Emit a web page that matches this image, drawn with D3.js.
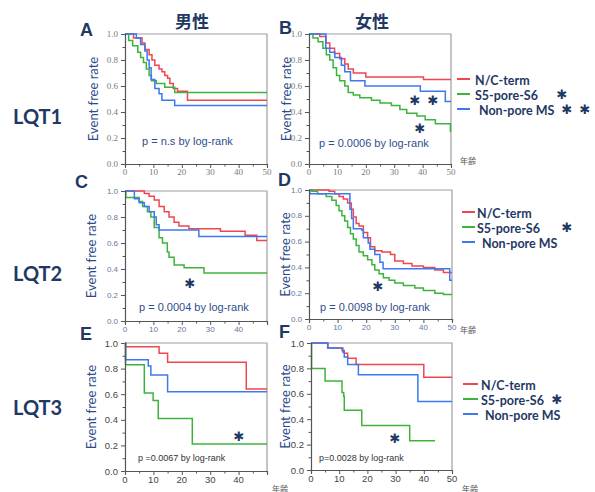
<!DOCTYPE html>
<html>
<head>
<meta charset="utf-8">
<script src="https://cdn.jsdelivr.net/npm/d3@7"></script>
<style>
  body { margin: 0; background: #fff; }
  text { font-family: "Liberation Sans", Arial, sans-serif; }
</style>
</head>
<body>
<div id="chart"></div>
<script>
// survival steps, [age, event free rate]
const aNC = [[0,1],[3,0.97],[6,0.93],[7,0.88],[8.5,0.84],[9.5,0.8],[10.5,0.76],[12,0.73],[13,0.71],[14,0.68],[15,0.66],[15.8,0.62],[17,0.58],[18.5,0.56],[22,0.49],[50,0.49]];
const aS5 = [[0,1],[1.3,0.95],[2.7,0.91],[4.5,0.86],[5.5,0.82],[6.5,0.78],[7.5,0.73],[8.5,0.68],[9.3,0.64],[11,0.62],[14,0.59],[17.5,0.55],[50,0.55]];
const aNon = [[0,1],[4,0.97],[5.5,0.92],[7,0.87],[7.8,0.8],[8.5,0.74],[9.2,0.65],[10.5,0.58],[12,0.54],[13,0.49],[17.5,0.45],[50,0.45]];

const bNC = [[0,1],[3.8,0.98],[6,0.93],[7.3,0.89],[9,0.85],[10.8,0.81],[12.6,0.77],[13.8,0.73],[15.6,0.7],[20,0.67],[40.3,0.65],[50,0.65]];
const bS5 = [[0,1],[1.4,0.97],[3.2,0.94],[4.9,0.89],[6.1,0.84],[7.3,0.8],[8.5,0.74],[9.7,0.68],[10.8,0.64],[12.6,0.6],[13.8,0.55],[15.6,0.53],[17.9,0.51],[22,0.49],[25,0.47],[29,0.45],[32,0.42],[34.4,0.39],[38,0.37],[40.9,0.34],[44.5,0.31],[49.8,0.25],[50,0.25]];
const bNon = [[0,1],[5.9,0.89],[7.3,0.86],[9.1,0.82],[11.4,0.76],[12.6,0.71],[14.6,0.64],[19.7,0.6],[39.2,0.56],[48,0.48],[50,0.48]];

const cNC = [[0,1],[6.8,0.98],[8.5,0.96],[10.3,0.93],[12,0.88],[13.8,0.84],[15.5,0.8],[17.3,0.76],[19,0.73],[22.5,0.71],[33.6,0.69],[42.3,0.66],[46.4,0.62],[50,0.62]];
const cS5 = [[0,1],[0.3,0.95],[5,0.92],[6.2,0.88],[7.9,0.84],[9.1,0.8],[10.3,0.72],[12,0.64],[13.2,0.6],[14.9,0.53],[15.5,0.49],[17.3,0.43],[20.8,0.41],[27.8,0.37],[50,0.37]];
const cNon = [[0,1],[3.3,0.94],[5,0.91],[6.8,0.88],[8.5,0.84],[10.3,0.8],[11,0.74],[12,0.7],[26,0.65],[50,0.65]];

const dNC = [[0,1],[7,0.99],[9,0.97],[10.5,0.95],[12,0.93],[13.5,0.9],[14.8,0.85],[15.5,0.79],[16.5,0.74],[17.5,0.72],[19,0.67],[20.5,0.63],[21.5,0.56],[23,0.53],[25.5,0.52],[28.5,0.5],[30,0.45],[33,0.43],[36,0.41],[40,0.4],[44,0.38],[47,0.36],[50,0.36]];
const dS5 = [[0,1],[1,0.99],[3,0.97],[6,0.95],[8,0.92],[9.5,0.88],[10.5,0.84],[11.5,0.8],[12.5,0.76],[13.5,0.71],[14.5,0.66],[15.5,0.62],[16.5,0.57],[17.5,0.52],[19,0.49],[20.5,0.46],[22,0.42],[23,0.38],[24.5,0.35],[26,0.32],[28,0.3],[30,0.28],[33,0.26],[37,0.24],[40,0.22],[44,0.2],[47,0.19],[50,0.19]];
const dNon = [[0,1],[0.3,0.97],[14.3,0.85],[14.9,0.78],[15.5,0.7],[18.4,0.69],[19,0.63],[20.7,0.59],[21.3,0.54],[23,0.5],[24.8,0.44],[25.9,0.39],[49.2,0.3],[50,0.3]];

const eNC = [[0,1],[0.2,0.97],[12,0.92],[15,0.85],[42.7,0.64],[50,0.64]];
const eS5 = [[0,1],[0.2,0.83],[6.8,0.61],[9.9,0.55],[11.7,0.41],[23.7,0.21],[50,0.21]];
const eNon = [[0,1],[0.2,0.87],[8.2,0.82],[9.1,0.75],[15,0.62],[50,0.62]];

const fNC = [[0,1],[6,0.96],[11,0.94],[11.8,0.92],[13,0.88],[16,0.83],[40,0.73],[50,0.73]];
const fS5 = [[0,1],[0.2,0.8],[5,0.7],[11,0.61],[11.6,0.58],[11.8,0.47],[18,0.35],[35,0.23],[44,0.23]];
const fNon = [[0,1],[5.9,0.96],[11.3,0.93],[11.8,0.89],[13,0.83],[16.8,0.75],[37.9,0.54],[50,0.54]];

const pTexts = ["p = n.s by log-rank", "p = 0.0006 by log-rank", "p = 0.0004 by log-rank",
                "p = 0.0098 by log-rank", "p =0.0067 by log-rank", "p=0.0028 by log-rank"];
const groupNames = ["N/C-term", "S5-pore-S6", "Non-pore MS"];
const rowNames = ["LQT1", "LQT2", "LQT3"];
const sexNames = ["男性", "女性"];
const yTicks = [0, 0.2, 0.4, 0.6, 0.8, 1.0];

const colors = ["#f04650", "#3cb43c", "#3c78f0"];
const navy = "#1f3864";

const svg = d3.select("#chart").append("svg")
    .attr("width", 595)
    .attr("height", 492);

// layout of the six panels
const tickStyles = {
    serif: { font: "Liberation Serif", size: 9, color: "#7a7a7a" },
    small: { font: "Liberation Sans", size: 8, color: "#66779a" },
    plain: { font: "Liberation Sans", size: 9.5, color: "#444" }
};
const panels = [
    { id: "A", box: [125, 34, 267, 164], series: [aNC, aS5, aNon], p: pTexts[0], pPos: [17, 107], pStyle: "blue", xLabels: [0,10,20,30,40,50], tick: "serif", letter: [80, 30], ylab: 93, stars: [] },
    { id: "B", box: [309, 34, 451, 164], series: [bNC, bS5, bNon], p: pTexts[1], pPos: [10, 109], pStyle: "blue", xLabels: [0,10,20,30,40,50], tick: "serif", letter: [279, 28], ylab: 286, stars: [[415, 100], [433, 100], [420, 128]] },
    { id: "C", box: [125, 191, 267, 321], series: [cNC, cS5, cNon], p: pTexts[2], pPos: [14, 116], pStyle: "blue", xLabels: [0,10,20,30,40], tick: "small", letter: [75, 182], ylab: 91, stars: [[190, 283]] },
    { id: "D", box: [309, 190, 452, 319], series: [dNC, dS5, dNon], p: pTexts[3], pPos: [11, 117], pStyle: "blue", xLabels: [0,10,20,30,40,50], tick: "small", letter: [278, 180], ylab: 285, stars: [[378, 286]] },
    { id: "E", box: [125, 343, 267, 471], series: [eNC, eS5, eNon], p: pTexts[4], pPos: [13, 115], pStyle: "grey", xLabels: [0,10,20,30,40], tick: "plain", letter: [80, 334], ylab: 91, stars: [[239, 436]] },
    { id: "F", box: [311, 343, 452, 470], series: [fNC, fS5, fNon], p: pTexts[5], pPos: [8, 115], pStyle: "grey", xLabels: [0,10,20,30,40,50], tick: "plain", letter: [279, 332], ylab: 285, stars: [[395, 438]] }
];

function star(x, y, size) {
    svg.append("text")
        .attr("x", x).attr("y", y)
        .attr("text-anchor", "middle")
        .attr("dominant-baseline", "central")
        .style("font-family", "DejaVu Sans")
        .style("font-size", size + "px")
        .style("fill", navy)
        .text("✱");
}

function drawPanel(p) {
    const [x0, y0, x1, y1] = p.box;
    const x = d3.scaleLinear().domain([0, 50]).range([x0, x1]);
    const y = d3.scaleLinear().domain([0, 1]).range([y1, y0]);
    const ts = tickStyles[p.tick];

    // grey frame top and right
    svg.append("path")
        .attr("d", `M${x0},${y0}H${x1}V${y1}`)
        .attr("fill", "none")
        .attr("stroke", "#a0a0a0")
        .attr("stroke-width", 1.2);

    const line = d3.line()
        .x(d => x(d[0]))
        .y(d => y(d[1]))
        .curve(d3.curveStepAfter);

    p.series.forEach((s, i) => {
        svg.append("path")
            .datum(s)
            .attr("d", line)
            .attr("fill", "none")
            .attr("stroke", colors[i])
            .attr("stroke-width", 1.5);
    });

    // axes
    const yAxis = svg.append("g").attr("transform", `translate(${x0},0)`)
        .call(d3.axisLeft(y).tickValues(d3.range(0, 1.01, 0.1)).tickSize(3).tickFormat(""));
    yAxis.selectAll(".tick line").attr("x2", (d, i) => i % 2 === 0 ? -4 : -2.5);
    const xAxis = svg.append("g").attr("transform", `translate(0,${y1})`)
        .call(d3.axisBottom(x).tickValues(d3.range(0, 51, 5)).tickSize(3).tickFormat(""));
    xAxis.selectAll(".tick line").attr("y2", (d, i) => i % 2 === 0 ? 4 : 2.5);
    [yAxis, xAxis].forEach(g => {
        g.select(".domain").attr("stroke", "#555").attr("stroke-width", 1.2);
        g.selectAll(".tick line").attr("stroke", "#555");
    });

    svg.append("g").selectAll("text")
        .data(yTicks)
        .enter().append("text")
        .attr("x", x0 - 7)
        .attr("y", d => y(d))
        .attr("text-anchor", "end")
        .attr("dominant-baseline", "central")
        .style("font-family", ts.font)
        .style("font-size", ts.size + "px")
        .style("fill", ts.color)
        .text(d => d.toFixed(1));

    svg.append("g").selectAll("text")
        .data(p.xLabels)
        .enter().append("text")
        .attr("x", d => x(d))
        .attr("y", y1 + 8)
        .attr("text-anchor", "middle")
        .attr("dominant-baseline", "central")
        .style("font-family", ts.font)
        .style("font-size", ts.size + "px")
        .style("fill", ts.color)
        .text(d => d);

    // y title
    svg.append("text")
        .attr("transform", `translate(${p.ylab},${(y0 + y1) / 2}) rotate(-90)`)
        .attr("text-anchor", "middle")
        .attr("dominant-baseline", "central")
        .style("font-family", "Lato")
        .style("font-size", "13px")
        .style("fill", "#2b4a8a")
        .text("Event free rate");

    svg.append("text")
        .attr("x", x0 + p.pPos[0])
        .attr("y", y0 + p.pPos[1])
        .attr("dominant-baseline", "central")
        .style("font-size", p.pStyle === "blue" ? "11px" : "9px")
        .style("fill", p.pStyle === "blue" ? "#2f4e8c" : "#333")
        .text(p.p);

    svg.append("text")
        .attr("x", p.letter[0])
        .attr("y", p.letter[1])
        .attr("dominant-baseline", "central")
        .style("font-size", "18px")
        .style("font-weight", "bold")
        .style("fill", navy)
        .text(p.id);

    p.stars.forEach(s => star(s[0], s[1], 13));
}

panels.forEach(drawPanel);

// column headers
[[192, 20], [372, 20]].forEach((pos, i) => {
    svg.append("text")
        .attr("x", pos[0]).attr("y", pos[1])
        .attr("text-anchor", "middle")
        .attr("dominant-baseline", "central")
        .style("font-family", "Noto Sans CJK JP")
        .style("font-size", "17px")
        .style("font-weight", "bold")
        .style("fill", navy)
        .text(sexNames[i]);
});

// row labels
[116, 273, 407].forEach((yy, i) => {
    svg.append("text")
        .attr("x", 13).attr("y", yy)
        .attr("dominant-baseline", "central")
        .style("font-family", "Lato")
        .style("font-size", "20px")
        .style("font-weight", "bold")
        .style("fill", navy)
        .text(rowNames[i]);
});

// legends, one per row
const legends = [
    { lineX: [457, 470], textX: [475, 475, 479], ys: [79, 94, 109], stars: [[562, 94], [567, 109], [585, 109]] },
    { lineX: [462, 475], textX: [477, 477, 482], ys: [212, 227, 242], stars: [[567, 227]] },
    { lineX: [463, 478], textX: [481, 481, 485], ys: [384, 399, 414], stars: [[557, 399]] }
];
legends.forEach(lg => {
    groupNames.forEach((name, i) => {
        svg.append("line")
            .attr("x1", lg.lineX[0]).attr("x2", lg.lineX[1])
            .attr("y1", lg.ys[i]).attr("y2", lg.ys[i])
            .attr("stroke", colors[i])
            .attr("stroke-width", 2);
        svg.append("text")
            .attr("x", lg.textX[i]).attr("y", lg.ys[i] + 1)
            .attr("dominant-baseline", "central")
            .style("font-family", "Lato")
            .style("font-size", "12.5px")
            .style("font-weight", "bold")
            .style("fill", navy)
            .text(name);
    });
    lg.stars.forEach(s => star(s[0], s[1], 13));
});

// age captions
[[468, 160], [468, 329], [280, 488], [470, 488]].forEach(pos => {
    svg.append("text")
        .attr("x", pos[0]).attr("y", pos[1])
        .attr("text-anchor", "middle")
        .attr("dominant-baseline", "central")
        .style("font-family", "Noto Sans CJK JP")
        .style("font-size", "8px")
        .style("fill", "#555")
        .text("年齢");
});
</script>
</body>
</html>
